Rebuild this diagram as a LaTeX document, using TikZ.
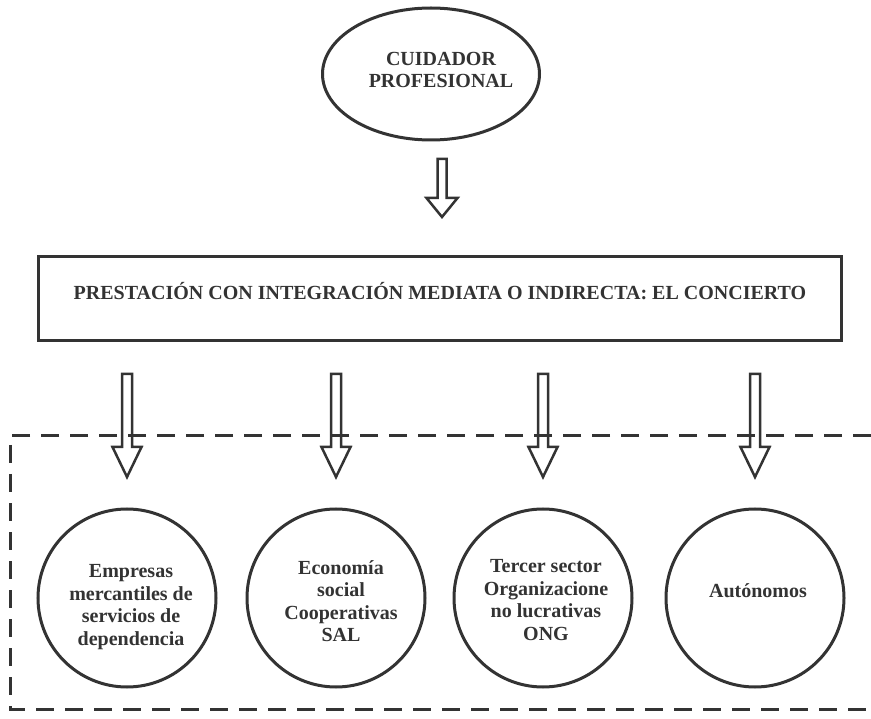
\documentclass[tikz,border=0pt]{standalone}
\usepackage{fontspec}
\setmainfont{Liberation Serif}
\usetikzlibrary{shapes.geometric}
\definecolor{ink}{HTML}{333333}
\tikzset{
  outline/.style={draw=ink, line width=3pt, inner sep=0pt},
  txt/.style={font=\fontsize{20}{22.5}\selectfont\bfseries, text=ink, align=center, inner sep=0pt},
  hollowarrow/.style={draw=ink, line width=2.5pt, line join=miter},
  frame/.style={draw=ink, line width=3pt, dash pattern=on 18pt off 11pt},
}
% hollow block arrow: x, top, head base, tip, shaft half width, head half width
\newcommand\blockarrow[6]{%
  \draw[hollowarrow] (#1-#5,#2) -- (#1+#5,#2) -- (#1+#5,#3) -- (#1+#6,#3)
    -- (#1,#4) -- (#1-#6,#3) -- (#1-#5,#3) -- cycle;}
\begin{document}
\begin{tikzpicture}[x=1pt,y=-1pt]
  \clip (0,0) rectangle (871,719);
  \fill[white] (0,0) rectangle (871,719);

  % top: the professional carer
  \node[outline, ellipse, minimum width=217pt, minimum height=132pt] (carer) at (431,74) {};
  \node[txt] (carertxt) at (441,70) {CUIDADOR\\PROFESIONAL};

  % main box
  \node[outline, rectangle, minimum width=803pt, minimum height=84pt] (main) at (440,298.5) {};
  \node[txt] (maintxt) at (440,291) {PRESTACIÓN CON INTEGRACIÓN MEDIATA O INDIRECTA: EL CONCIERTO};

  % providers
  \node[outline, circle, minimum size=178pt] (c1) at (127,598) {};
  \node[outline, circle, minimum size=178pt] (c2) at (336,598) {};
  \node[outline, circle, minimum size=178pt] (c3) at (543,598) {};
  \node[outline, circle, minimum size=178pt] (c4) at (755,598) {};
  \node[txt] (t1) at (131,607) {Empresas\\mercantiles de\\servicios de\\dependencia};
  \node[txt] (t2) at (341,601) {Economía\\social\\Cooperativas\\SAL};
  \node[txt] (t3) at (546,600) {Tercer sector\\Organizacione\\no lucrativas\\ONG};
  \node[txt] (t4) at (758,591) {Autónomos};

  % arrows
  \blockarrow{442}{159}{198}{217}{4.5}{15.5}
  \blockarrow{127}{374}{447}{477}{5}{14.5}
  \blockarrow{336}{374}{447}{477}{5}{14.5}
  \blockarrow{543}{374}{447}{477}{5}{14.5}
  \blockarrow{755}{374}{447}{477}{5}{14.5}

  % dashed frame around the providers (runs past the right edge)
  \draw[frame] (900,436) -- (10,436) -- (10,709) -- (900,709);
\end{tikzpicture}
\end{document}
